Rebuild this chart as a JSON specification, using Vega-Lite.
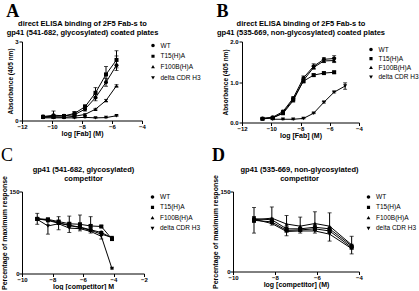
{
  "$schema": "https://vega.github.io/schema/vega-lite/v6.json",
  "background": "white",
  "padding": {"left": 0, "top": 2.5, "right": 0, "bottom": 0},
  "spacing": 8,
  "datasets": {
    "A": [
      {"s": "WT", "x": -10.6, "y": 0.15, "lo": 0.13, "hi": 0.17},
      {"s": "WT", "x": -9.9, "y": 0.2, "lo": 0.08, "hi": 0.36},
      {"s": "WT", "x": -9.2, "y": 0.18, "lo": 0.15, "hi": 0.21},
      {"s": "WT", "x": -8.5, "y": 0.22, "lo": 0.18, "hi": 0.26},
      {"s": "WT", "x": -7.8, "y": 0.43, "lo": 0.36, "hi": 0.5},
      {"s": "WT", "x": -7.1, "y": 0.87, "lo": 0.75, "hi": 1.0},
      {"s": "WT", "x": -6.4, "y": 1.45, "lo": 1.3, "hi": 1.6},
      {"s": "WT", "x": -5.7, "y": 2.1, "lo": 1.9, "hi": 2.45},
      {"s": "T15(H)A", "x": -10.6, "y": 0.14, "lo": 0.12, "hi": 0.16},
      {"s": "T15(H)A", "x": -9.9, "y": 0.16, "lo": 0.13, "hi": 0.19},
      {"s": "T15(H)A", "x": -9.2, "y": 0.17, "lo": 0.12, "hi": 0.22},
      {"s": "T15(H)A", "x": -8.5, "y": 0.27, "lo": 0.2, "hi": 0.34},
      {"s": "T15(H)A", "x": -7.8, "y": 0.52, "lo": 0.42, "hi": 0.6},
      {"s": "T15(H)A", "x": -7.1, "y": 1.05, "lo": 0.85, "hi": 1.25},
      {"s": "T15(H)A", "x": -6.4, "y": 1.75, "lo": 1.45, "hi": 2.05},
      {"s": "T15(H)A", "x": -5.7, "y": 2.3, "lo": 2.0, "hi": 2.65},
      {"s": "F100B(H)A", "x": -10.6, "y": 0.12, "lo": 0.1, "hi": 0.14},
      {"s": "F100B(H)A", "x": -9.9, "y": 0.13, "lo": 0.11, "hi": 0.15},
      {"s": "F100B(H)A", "x": -9.2, "y": 0.12, "lo": 0.1, "hi": 0.14},
      {"s": "F100B(H)A", "x": -8.5, "y": 0.16, "lo": 0.14, "hi": 0.18},
      {"s": "F100B(H)A", "x": -7.8, "y": 0.23, "lo": 0.2, "hi": 0.26},
      {"s": "F100B(H)A", "x": -7.1, "y": 0.43, "lo": 0.4, "hi": 0.46},
      {"s": "F100B(H)A", "x": -6.4, "y": 0.76, "lo": 0.72, "hi": 0.8},
      {"s": "F100B(H)A", "x": -5.7, "y": 1.32, "lo": 1.28, "hi": 1.36},
      {"s": "delta CDR H3", "x": -10.6, "y": 0.1, "lo": 0.09, "hi": 0.11},
      {"s": "delta CDR H3", "x": -9.9, "y": 0.1, "lo": 0.09, "hi": 0.11},
      {"s": "delta CDR H3", "x": -9.2, "y": 0.1, "lo": 0.09, "hi": 0.11},
      {"s": "delta CDR H3", "x": -8.5, "y": 0.1, "lo": 0.09, "hi": 0.11},
      {"s": "delta CDR H3", "x": -7.8, "y": 0.12, "lo": 0.11, "hi": 0.13},
      {"s": "delta CDR H3", "x": -7.1, "y": 0.1, "lo": 0.09, "hi": 0.11},
      {"s": "delta CDR H3", "x": -6.4, "y": 0.11, "lo": 0.1, "hi": 0.12},
      {"s": "delta CDR H3", "x": -5.7, "y": 0.18, "lo": 0.16, "hi": 0.2}
    ],
    "B": [
      {"s": "WT", "x": -10.6, "y": 0.1, "lo": 0.08, "hi": 0.12},
      {"s": "WT", "x": -9.9, "y": 0.13, "lo": 0.11, "hi": 0.15},
      {"s": "WT", "x": -9.2, "y": 0.27, "lo": 0.24, "hi": 0.3},
      {"s": "WT", "x": -8.5, "y": 0.6, "lo": 0.56, "hi": 0.64},
      {"s": "WT", "x": -7.8, "y": 1.1, "lo": 1.05, "hi": 1.15},
      {"s": "WT", "x": -7.1, "y": 1.39, "lo": 1.33, "hi": 1.45},
      {"s": "WT", "x": -6.4, "y": 1.56, "lo": 1.5, "hi": 1.6},
      {"s": "WT", "x": -5.7, "y": 1.58, "lo": 1.5, "hi": 1.65},
      {"s": "T15(H)A", "x": -10.6, "y": 0.09, "lo": 0.08, "hi": 0.1},
      {"s": "T15(H)A", "x": -9.9, "y": 0.11, "lo": 0.1, "hi": 0.12},
      {"s": "T15(H)A", "x": -9.2, "y": 0.24, "lo": 0.22, "hi": 0.26},
      {"s": "T15(H)A", "x": -8.5, "y": 0.57, "lo": 0.54, "hi": 0.6},
      {"s": "T15(H)A", "x": -7.8, "y": 1.02, "lo": 0.98, "hi": 1.06},
      {"s": "T15(H)A", "x": -7.1, "y": 1.17, "lo": 1.14, "hi": 1.2},
      {"s": "T15(H)A", "x": -6.4, "y": 1.22, "lo": 1.19, "hi": 1.25},
      {"s": "T15(H)A", "x": -5.7, "y": 1.24, "lo": 1.21, "hi": 1.27},
      {"s": "F100B(H)A", "x": -10.6, "y": 0.1, "lo": 0.09, "hi": 0.11},
      {"s": "F100B(H)A", "x": -9.9, "y": 0.12, "lo": 0.11, "hi": 0.13},
      {"s": "F100B(H)A", "x": -9.2, "y": 0.22, "lo": 0.2, "hi": 0.24},
      {"s": "F100B(H)A", "x": -8.5, "y": 0.54, "lo": 0.51, "hi": 0.57},
      {"s": "F100B(H)A", "x": -7.8, "y": 1.04, "lo": 1.0, "hi": 1.08},
      {"s": "F100B(H)A", "x": -7.1, "y": 1.36, "lo": 1.32, "hi": 1.4},
      {"s": "F100B(H)A", "x": -6.4, "y": 1.52, "lo": 1.48, "hi": 1.56},
      {"s": "F100B(H)A", "x": -5.7, "y": 1.53, "lo": 1.48, "hi": 1.6},
      {"s": "delta CDR H3", "x": -9.9, "y": 0.08, "lo": 0.07, "hi": 0.09},
      {"s": "delta CDR H3", "x": -9.2, "y": 0.08, "lo": 0.07, "hi": 0.09},
      {"s": "delta CDR H3", "x": -8.5, "y": 0.08, "lo": 0.07, "hi": 0.09},
      {"s": "delta CDR H3", "x": -7.8, "y": 0.1, "lo": 0.09, "hi": 0.11},
      {"s": "delta CDR H3", "x": -7.1, "y": 0.23, "lo": 0.22, "hi": 0.24},
      {"s": "delta CDR H3", "x": -6.4, "y": 0.5, "lo": 0.48, "hi": 0.52},
      {"s": "delta CDR H3", "x": -5.7, "y": 0.75, "lo": 0.73, "hi": 0.77},
      {"s": "delta CDR H3", "x": -4.95, "y": 0.9, "lo": 0.82, "hi": 0.98}
    ],
    "C": [
      {"s": "WT", "x": -9.0, "y": 100, "lo": 90, "hi": 110},
      {"s": "WT", "x": -8.3, "y": 98, "lo": 96, "hi": 100},
      {"s": "WT", "x": -7.6, "y": 93, "lo": 91, "hi": 95},
      {"s": "WT", "x": -6.9, "y": 88, "lo": 86, "hi": 90},
      {"s": "WT", "x": -6.2, "y": 85, "lo": 83, "hi": 87},
      {"s": "WT", "x": -5.5, "y": 80, "lo": 78, "hi": 82},
      {"s": "WT", "x": -4.8, "y": 75, "lo": 73, "hi": 77},
      {"s": "WT", "x": -4.1, "y": 65, "lo": 63, "hi": 67},
      {"s": "T15(H)A", "x": -9.0, "y": 100, "lo": 98, "hi": 102},
      {"s": "T15(H)A", "x": -8.3, "y": 99, "lo": 97, "hi": 101},
      {"s": "T15(H)A", "x": -7.6, "y": 95, "lo": 93, "hi": 97},
      {"s": "T15(H)A", "x": -6.9, "y": 91, "lo": 89, "hi": 93},
      {"s": "T15(H)A", "x": -6.2, "y": 90, "lo": 88, "hi": 92},
      {"s": "T15(H)A", "x": -5.5, "y": 87, "lo": 85, "hi": 89},
      {"s": "T15(H)A", "x": -4.8, "y": 86, "lo": 84, "hi": 88},
      {"s": "T15(H)A", "x": -4.1, "y": 63, "lo": 61, "hi": 65},
      {"s": "F100B(H)A", "x": -9.0, "y": 100, "lo": 98, "hi": 102},
      {"s": "F100B(H)A", "x": -8.3, "y": 97, "lo": 95, "hi": 99},
      {"s": "F100B(H)A", "x": -7.6, "y": 92, "lo": 90, "hi": 94},
      {"s": "F100B(H)A", "x": -6.9, "y": 88, "lo": 86, "hi": 90},
      {"s": "F100B(H)A", "x": -6.2, "y": 84, "lo": 82, "hi": 86},
      {"s": "F100B(H)A", "x": -5.5, "y": 79, "lo": 77, "hi": 81},
      {"s": "F100B(H)A", "x": -4.8, "y": 72, "lo": 70, "hi": 74},
      {"s": "F100B(H)A", "x": -4.1, "y": 66, "lo": 64, "hi": 68},
      {"s": "delta CDR H3", "x": -9.0, "y": 99, "lo": 97, "hi": 101},
      {"s": "delta CDR H3", "x": -8.3, "y": 87, "lo": 72, "hi": 101},
      {"s": "delta CDR H3", "x": -7.6, "y": 91, "lo": 80, "hi": 104},
      {"s": "delta CDR H3", "x": -6.9, "y": 83, "lo": 75, "hi": 105},
      {"s": "delta CDR H3", "x": -6.2, "y": 82, "lo": 78, "hi": 107},
      {"s": "delta CDR H3", "x": -5.5, "y": 77, "lo": 74, "hi": 104},
      {"s": "delta CDR H3", "x": -4.8, "y": 68, "lo": 63, "hi": 76},
      {"s": "delta CDR H3", "x": -4.1, "y": 9, "lo": 8, "hi": 10}
    ],
    "D": [
      {"s": "WT", "x": -9.0, "y": 99, "lo": 96, "hi": 102},
      {"s": "WT", "x": -8.15, "y": 97, "lo": 94, "hi": 100},
      {"s": "WT", "x": -7.45, "y": 80, "lo": 77, "hi": 83},
      {"s": "WT", "x": -6.8, "y": 80, "lo": 77, "hi": 83},
      {"s": "WT", "x": -6.1, "y": 83, "lo": 80, "hi": 86},
      {"s": "WT", "x": -5.4, "y": 80, "lo": 77, "hi": 83},
      {"s": "WT", "x": -4.35, "y": 48, "lo": 45, "hi": 51},
      {"s": "T15(H)A", "x": -9.0, "y": 96, "lo": 93, "hi": 99},
      {"s": "T15(H)A", "x": -8.15, "y": 93, "lo": 90, "hi": 96},
      {"s": "T15(H)A", "x": -7.45, "y": 77, "lo": 74, "hi": 80},
      {"s": "T15(H)A", "x": -6.8, "y": 78, "lo": 75, "hi": 81},
      {"s": "T15(H)A", "x": -6.1, "y": 80, "lo": 77, "hi": 83},
      {"s": "T15(H)A", "x": -5.4, "y": 76, "lo": 73, "hi": 79},
      {"s": "T15(H)A", "x": -4.35, "y": 45, "lo": 42, "hi": 48},
      {"s": "F100B(H)A", "x": -9.0, "y": 97, "lo": 92, "hi": 120},
      {"s": "F100B(H)A", "x": -8.15, "y": 100, "lo": 95, "hi": 121},
      {"s": "F100B(H)A", "x": -7.45, "y": 89, "lo": 84, "hi": 105},
      {"s": "F100B(H)A", "x": -6.8, "y": 85, "lo": 80, "hi": 102},
      {"s": "F100B(H)A", "x": -6.1, "y": 90, "lo": 85, "hi": 112},
      {"s": "F100B(H)A", "x": -5.4, "y": 85, "lo": 80, "hi": 110},
      {"s": "F100B(H)A", "x": -4.35, "y": 50, "lo": 45, "hi": 66},
      {"s": "delta CDR H3", "x": -9.0, "y": 98, "lo": 72, "hi": 103},
      {"s": "delta CDR H3", "x": -8.15, "y": 90, "lo": 87, "hi": 95},
      {"s": "delta CDR H3", "x": -7.45, "y": 75, "lo": 67, "hi": 80},
      {"s": "delta CDR H3", "x": -6.8, "y": 76, "lo": 72, "hi": 81},
      {"s": "delta CDR H3", "x": -6.1, "y": 76, "lo": 72, "hi": 81},
      {"s": "delta CDR H3", "x": -5.4, "y": 70, "lo": 57, "hi": 75},
      {"s": "delta CDR H3", "x": -4.35, "y": 43, "lo": 33, "hi": 48}
    ]
  },
  "vconcat": [
    {
      "spacing": 15,
      "hconcat": [
        {
          "width": 120,
          "height": 79,
          "title": {"text": "A", "offset": -1.5},
          "data": {"name": "A"},
          "layer": [
            {"mark": {"type": "errorbar", "color": "black", "thickness": 1, "ticks": {"size": 4, "thickness": 1, "color": "black"}},
             "encoding": {
               "x": {"field": "x", "type": "quantitative", "title": "log [Fab] (M)", "scale": {"domain": [-12, -4], "nice": false, "zero": false}, "axis": {"values": [-12, -10, -8, -6, -4]}},
               "y": {"field": "lo", "type": "quantitative", "title": "Absorbance (405 nm)", "scale": {"domain": [0, 3], "nice": false}, "axis": {"values": [0, 1, 2, 3], "titleFontSize": 6.5}},
               "y2": {"field": "hi"}}},
            {"mark": {"type": "line", "color": "black", "strokeWidth": 1},
             "encoding": {
               "x": {"field": "x", "type": "quantitative", "title": ["direct ELISA binding of 2F5 Fab-s to", "gp41 (541-682, glycosylated) coated plates"], "axis": {"orient": "top", "domain": false, "ticks": false, "labels": false, "titleFontSize": 7.5, "titleLineHeight": 9, "titleBaseline": "top", "titleY": -22}},
               "y": {"field": "y", "type": "quantitative", "title": "Absorbance (405 nm)"},
               "detail": {"field": "s"}}},
            {"mark": {"type": "point", "filled": true, "color": "black", "size": 16, "opacity": 1},
             "encoding": {
               "x": {"field": "x", "type": "quantitative", "axis": null},
               "y": {"field": "y", "type": "quantitative", "title": "Absorbance (405 nm)"},
               "shape": {"field": "s", "type": "nominal", "legend": null, "scale": {"domain": ["WT", "T15(H)A", "F100B(H)A", "delta CDR H3"], "range": ["circle", "square", "triangle-up", "triangle-down"]}}}},
            {"mark": {"type": "point", "filled": false, "color": "black", "fill": "black", "strokeWidth": 1, "opacity": 0},
             "encoding": {
               "x": {"field": "x", "type": "quantitative", "axis": null},
               "y": {"field": "y", "type": "quantitative", "title": "Absorbance (405 nm)"},
               "shape": {"field": "s", "type": "nominal",
                 "legend": {"offset": 7, "padding": 0, "rowPadding": 2.7, "encode": {"symbols": {"update": {"stroke": {"value": "black"}, "strokeWidth": {"value": 1}, "fill": {"value": "black"}, "opacity": {"value": 1}}}}},
                 "scale": {"domain": ["WT", "T15(H)A", "F100B(H)A", "delta CDR H3"], "range": ["M-1.2,0L1.2,0M0.5,0A0.5,0.5,0,1,1,-0.5,0A0.5,0.5,0,1,1,0.5,0Z", "M-1.2,0L1.2,0M-0.45,-0.45L0.45,-0.45L0.45,0.45L-0.45,0.45Z", "M-1.2,0L1.2,0M0,-0.55L0.55,0.4L-0.55,0.4Z", "M-1.2,0L1.2,0M0,0.55L0.55,-0.4L-0.55,-0.4Z"]}}}}
          ],
          "resolve": {"scale": {"shape": "independent"}, "axis": {"x": "independent"}}
        },
        {
          "width": 117,
          "height": 81,
          "title": {"text": "B", "offset": -1.5},
          "data": {"name": "B"},
          "layer": [
            {"mark": {"type": "errorbar", "color": "black", "thickness": 1, "ticks": {"size": 4, "thickness": 1, "color": "black"}},
             "encoding": {
               "x": {"field": "x", "type": "quantitative", "title": "log [Fab] (M)", "scale": {"domain": [-12, -4], "nice": false, "zero": false}, "axis": {"values": [-12, -10, -8, -6, -4]}},
               "y": {"field": "lo", "type": "quantitative", "title": "Absorbance (405 nm)", "scale": {"domain": [0, 2], "nice": false}, "axis": {"values": [0, 0.5, 1, 1.5, 2], "format": ".1f", "titleFontSize": 6.5}},
               "y2": {"field": "hi"}}},
            {"mark": {"type": "line", "color": "black", "strokeWidth": 1},
             "encoding": {
               "x": {"field": "x", "type": "quantitative", "title": ["direct ELISA binding of 2F5 Fab-s to", "gp41 (535-669, non-glycosylated) coated plates"], "axis": {"orient": "top", "domain": false, "ticks": false, "labels": false, "titleFontSize": 7.5, "titleLineHeight": 9, "titleBaseline": "top", "titleY": -22}},
               "y": {"field": "y", "type": "quantitative", "title": "Absorbance (405 nm)"},
               "detail": {"field": "s"}}},
            {"mark": {"type": "point", "filled": true, "color": "black", "size": 16, "opacity": 1},
             "encoding": {
               "x": {"field": "x", "type": "quantitative", "axis": null},
               "y": {"field": "y", "type": "quantitative", "title": "Absorbance (405 nm)"},
               "shape": {"field": "s", "type": "nominal", "legend": null, "scale": {"domain": ["WT", "T15(H)A", "F100B(H)A", "delta CDR H3"], "range": ["circle", "square", "triangle-up", "triangle-down"]}}}},
            {"mark": {"type": "point", "filled": false, "color": "black", "fill": "black", "strokeWidth": 1, "opacity": 0},
             "encoding": {
               "x": {"field": "x", "type": "quantitative", "axis": null},
               "y": {"field": "y", "type": "quantitative", "title": "Absorbance (405 nm)"},
               "shape": {"field": "s", "type": "nominal",
                 "legend": {"offset": 4, "padding": 4, "rowPadding": 1.1, "encode": {"symbols": {"update": {"stroke": {"value": "black"}, "strokeWidth": {"value": 1}, "fill": {"value": "black"}, "opacity": {"value": 1}}}}},
                 "scale": {"domain": ["WT", "T15(H)A", "F100B(H)A", "delta CDR H3"], "range": ["M-1.2,0L1.2,0M0.5,0A0.5,0.5,0,1,1,-0.5,0A0.5,0.5,0,1,1,0.5,0Z", "M-1.2,0L1.2,0M-0.45,-0.45L0.45,-0.45L0.45,0.45L-0.45,0.45Z", "M-1.2,0L1.2,0M0,-0.55L0.55,0.4L-0.55,0.4Z", "M-1.2,0L1.2,0M0,0.55L0.55,-0.4L-0.55,-0.4Z"]}}}}
          ],
          "resolve": {"scale": {"shape": "independent"}, "axis": {"x": "independent"}}
        }
      ]
    },
    {
      "spacing": 9,
      "hconcat": [
        {
          "width": 122,
          "height": 82,
          "title": {"text": "C", "fontWeight": "normal", "offset": 1},
          "data": {"name": "C"},
          "layer": [
            {"mark": {"type": "errorbar", "color": "black", "thickness": 1, "ticks": {"size": 4, "thickness": 1, "color": "black"}},
             "encoding": {
               "x": {"field": "x", "type": "quantitative", "title": "log [competitor] M", "scale": {"domain": [-10, -2], "nice": false, "zero": false}, "axis": {"values": [-10, -8, -6, -4, -2]}},
               "y": {"field": "lo", "type": "quantitative", "title": "Percentage of maximum response", "scale": {"domain": [0, 150], "nice": false}, "axis": {"values": [0, 50, 100, 150], "titleFontSize": 7, "labelPadding": 0}},
               "y2": {"field": "hi"}}},
            {"mark": {"type": "line", "color": "black", "strokeWidth": 1},
             "encoding": {
               "x": {"field": "x", "type": "quantitative", "title": ["gp41 (541-682, glycosylated)", "competitor"], "axis": {"orient": "top", "domain": false, "ticks": false, "labels": false, "titleFontSize": 7.5, "titleLineHeight": 9, "titleBaseline": "top", "titleY": -26}},
               "y": {"field": "y", "type": "quantitative", "title": "Percentage of maximum response"},
               "detail": {"field": "s"}}},
            {"mark": {"type": "point", "filled": true, "color": "black", "size": 16, "opacity": 1},
             "encoding": {
               "x": {"field": "x", "type": "quantitative", "axis": null},
               "y": {"field": "y", "type": "quantitative", "title": "Percentage of maximum response"},
               "shape": {"field": "s", "type": "nominal", "legend": null, "scale": {"domain": ["WT", "T15(H)A", "F100B(H)A", "delta CDR H3"], "range": ["circle", "square", "triangle-up", "triangle-down"]}}}},
            {"mark": {"type": "point", "filled": false, "color": "black", "fill": "black", "strokeWidth": 1, "opacity": 0},
             "encoding": {
               "x": {"field": "x", "type": "quantitative", "axis": null},
               "y": {"field": "y", "type": "quantitative", "title": "Percentage of maximum response"},
               "shape": {"field": "s", "type": "nominal",
                 "legend": {"offset": 2.5, "padding": 1.5, "rowPadding": 2.4, "encode": {"symbols": {"update": {"stroke": {"value": "black"}, "strokeWidth": {"value": 1}, "fill": {"value": "black"}, "opacity": {"value": 1}}}}},
                 "scale": {"domain": ["WT", "T15(H)A", "F100B(H)A", "delta CDR H3"], "range": ["M-1.2,0L1.2,0M0.5,0A0.5,0.5,0,1,1,-0.5,0A0.5,0.5,0,1,1,0.5,0Z", "M-1.2,0L1.2,0M-0.45,-0.45L0.45,-0.45L0.45,0.45L-0.45,0.45Z", "M-1.2,0L1.2,0M0,-0.55L0.55,0.4L-0.55,0.4Z", "M-1.2,0L1.2,0M0,0.55L0.55,-0.4L-0.55,-0.4Z"]}}}}
          ],
          "resolve": {"scale": {"shape": "independent"}, "axis": {"x": "independent"}}
        },
        {
          "width": 126,
          "height": 80,
          "title": {"text": "D", "offset": 1},
          "data": {"name": "D"},
          "layer": [
            {"mark": {"type": "errorbar", "color": "black", "thickness": 1, "ticks": {"size": 4, "thickness": 1, "color": "black"}},
             "encoding": {
               "x": {"field": "x", "type": "quantitative", "title": "log [competitor] (M)", "scale": {"domain": [-10, -4], "nice": false, "zero": false}, "axis": {"values": [-10, -8, -6, -4]}},
               "y": {"field": "lo", "type": "quantitative", "title": "Percentage of maximum response", "scale": {"domain": [0, 150], "nice": false}, "axis": {"values": [0, 50, 100, 150], "titleFontSize": 7, "labelPadding": 0}},
               "y2": {"field": "hi"}}},
            {"mark": {"type": "line", "color": "black", "strokeWidth": 1},
             "encoding": {
               "x": {"field": "x", "type": "quantitative", "title": ["gp41 (535-669, non-glycosylated)", "competitor"], "axis": {"orient": "top", "domain": false, "ticks": false, "labels": false, "titleFontSize": 7.5, "titleLineHeight": 9, "titleBaseline": "top", "titleY": -26, "titleX": 66}},
               "y": {"field": "y", "type": "quantitative", "title": "Percentage of maximum response"},
               "detail": {"field": "s"}}},
            {"mark": {"type": "point", "filled": true, "color": "black", "size": 16, "opacity": 1},
             "encoding": {
               "x": {"field": "x", "type": "quantitative", "axis": null},
               "y": {"field": "y", "type": "quantitative", "title": "Percentage of maximum response"},
               "shape": {"field": "s", "type": "nominal", "legend": null, "scale": {"domain": ["WT", "T15(H)A", "F100B(H)A", "delta CDR H3"], "range": ["circle", "square", "triangle-up", "triangle-down"]}}}},
            {"mark": {"type": "point", "filled": false, "color": "black", "fill": "black", "strokeWidth": 1, "opacity": 0},
             "encoding": {
               "x": {"field": "x", "type": "quantitative", "axis": null},
               "y": {"field": "y", "type": "quantitative", "title": "Percentage of maximum response"},
               "shape": {"field": "s", "type": "nominal",
                 "legend": {"offset": 4, "padding": 1.5, "rowPadding": 2.4, "encode": {"symbols": {"update": {"stroke": {"value": "black"}, "strokeWidth": {"value": 1}, "fill": {"value": "black"}, "opacity": {"value": 1}}}}},
                 "scale": {"domain": ["WT", "T15(H)A", "F100B(H)A", "delta CDR H3"], "range": ["M-1.2,0L1.2,0M0.5,0A0.5,0.5,0,1,1,-0.5,0A0.5,0.5,0,1,1,0.5,0Z", "M-1.2,0L1.2,0M-0.45,-0.45L0.45,-0.45L0.45,0.45L-0.45,0.45Z", "M-1.2,0L1.2,0M0,-0.55L0.55,0.4L-0.55,0.4Z", "M-1.2,0L1.2,0M0,0.55L0.55,-0.4L-0.55,-0.4Z"]}}}}
          ],
          "resolve": {"scale": {"shape": "independent"}, "axis": {"x": "independent"}}
        }
      ]
    }
  ],
  "config": {
    "view": {"stroke": null},
    "font": "Liberation Sans",
    "title": {"anchor": "start", "frame": "bounds", "font": "Liberation Serif", "fontSize": 18, "fontWeight": "bold", "color": "black", "baseline": "alphabetic", "offset": 1},
    "axis": {"grid": false, "domainColor": "black", "domainWidth": 1, "tickColor": "black", "tickSize": 3, "tickWidth": 1, "labelFont": "Liberation Sans", "labelFontSize": 6, "labelFontWeight": "bold", "labelColor": "black", "labelPadding": 1, "labelFlush": false, "labelOverlap": false, "titleFont": "Liberation Sans", "titleFontSize": 7, "titleFontWeight": "bold", "titleColor": "black", "titlePadding": 1.5},
    "axisX": {"labelPadding": 0, "titlePadding": 0},
    "axisY": {"titlePadding": 1},
    "legend": {"title": null, "symbolSize": 49, "symbolOpacity": 1, "symbolFillColor": "black", "symbolStrokeColor": "black", "symbolStrokeWidth": 1, "labelFont": "Liberation Sans", "labelFontSize": 6.5, "labelColor": "black", "labelOffset": 3.5}
  }
}
